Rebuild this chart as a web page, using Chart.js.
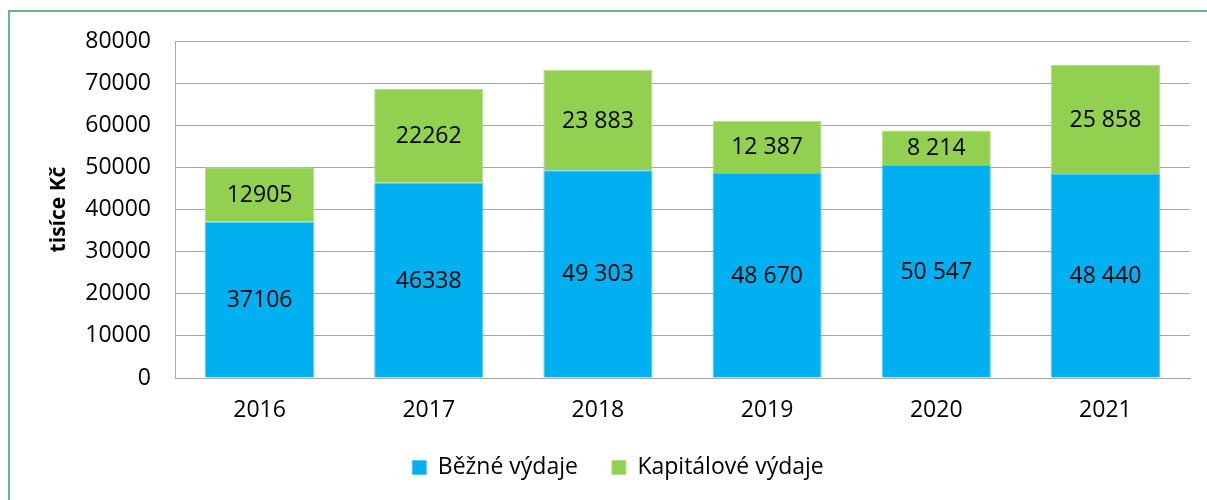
<!DOCTYPE html>
<html lang="cs">
<head>
    <meta charset="UTF-8">
    <title>Výdaje</title>
    <script src="https://cdn.jsdelivr.net/npm/chart.js"></script>
    <style>
        html, body {
            margin: 0;
            padding: 0;
            width: 1207px;
            height: 500px;
            background: #fff;
            overflow: hidden;
        }
        #frame {
            position: absolute;
            left: 8px;
            top: 10px;
            width: 1199px;
            height: 490px;
            border-top: 2px solid #5cbd84;
            border-left: 2px solid #5cbd84;
        }
        .chart-container {
            position: absolute;
            left: 0;
            top: 0;
            width: 1207px;
            height: 500px;
        }
    </style>
</head>
<body>
    <div id="frame"></div>
    <div class="chart-container">
        <canvas id="vydajeChart"></canvas>
    </div>
    <script>
        const years = ["2016", "2017", "2018", "2019", "2020", "2021"];
        const bezneVydaje = [37106, 46338, 49303, 48670, 50547, 48440];
        const kapitaloveVydaje = [12905, 22262, 23883, 12387, 8214, 25858];
        // popisky tak, jak jsou v obrázku (různé formátování)
        const bezneLabels = ["37106", "46338", "49 303", "48 670", "50 547", "48 440"];
        const kapitaloveLabels = ["12905", "22262", "23 883", "12 387", "8 214", "25 858"];
        const yTicks = [0, 10000, 20000, 30000, 40000, 50000, 60000, 70000, 80000];

        const fontFamily = "'Open Sans', 'Noto Sans', sans-serif";
        const valueLabels = [bezneLabels, kapitaloveLabels];

        const barLabelsPlugin = {
            id: 'barLabels',
            afterLayout(chart) {
                // legenda je v originále posunutá trochu doprava
                chart.legend.left += 46;
            },
            afterDatasetsDraw(chart) {
                const ctx = chart.ctx;
                ctx.save();
                ctx.font = "23px " + fontFamily;
                ctx.fillStyle = '#000';
                ctx.textAlign = 'center';
                ctx.textBaseline = 'middle';
                chart.data.datasets.forEach((ds, d) => {
                    const meta = chart.getDatasetMeta(d);
                    meta.data.forEach((bar, i) => {
                        ctx.fillText(valueLabels[d][i], bar.x, (bar.y + bar.base) / 2 + 1);
                    });
                });
                ctx.restore();
            }
        };

        const config = {
            type: 'bar',
            data: {
                labels: years,
                datasets: [{
                    label: "Běžné výdaje",
                    data: bezneVydaje,
                    backgroundColor: "#00b0f0",
                    borderColor: "#4fc8f4",
                    borderWidth: 1,
                    categoryPercentage: 0.645,
                    barPercentage: 1
                }, {
                    label: "Kapitálové výdaje",
                    data: kapitaloveVydaje,
                    backgroundColor: "#92d050",
                    borderColor: "#b3de88",
                    borderWidth: 1,
                    categoryPercentage: 0.645,
                    barPercentage: 1
                }]
            },
            options: {
                responsive: true,
                maintainAspectRatio: false,
                animation: false,
                layout: {
                    padding: { top: 41, right: 17, bottom: 11, left: 0 }
                },
                plugins: {
                    legend: {
                        position: 'bottom',
                        labels: {
                            boxWidth: 14,
                            boxHeight: 14,
                            padding: 34,
                            color: '#000',
                            font: { family: fontFamily, size: 23 }
                        }
                    },
                    tooltip: { enabled: false }
                },
                scales: {
                    x: {
                        stacked: true,
                        grid: { display: false, drawTicks: false },
                        border: { color: '#a6a6a6', width: 1 },
                        ticks: {
                            color: '#000',
                            padding: 19,
                            font: { family: fontFamily, size: 23 }
                        },
                        afterFit(scale) { scale.height = 44; }
                    },
                    y: {
                        stacked: true,
                        min: 0,
                        max: 80000,
                        afterBuildTicks(scale) {
                            scale.ticks = yTicks.map(v => ({ value: v }));
                        },
                        grid: { color: '#a6a6a6', drawTicks: false },
                        border: { color: '#a6a6a6', width: 1 },
                        ticks: {
                            color: '#000',
                            padding: 24,
                            font: { family: fontFamily, size: 23 },
                            callback: v => String(v)
                        },
                        title: {
                            display: true,
                            text: 'tisíce Kč',
                            color: '#000',
                            padding: { top: 46, bottom: 0 },
                            font: { family: fontFamily, size: 21, weight: 'bold' }
                        },
                        afterFit(scale) { scale.width = 175; }
                    }
                }
            },
            plugins: [barLabelsPlugin]
        };

        new Chart(document.getElementById('vydajeChart'), config);
    </script>
</body>
</html>
